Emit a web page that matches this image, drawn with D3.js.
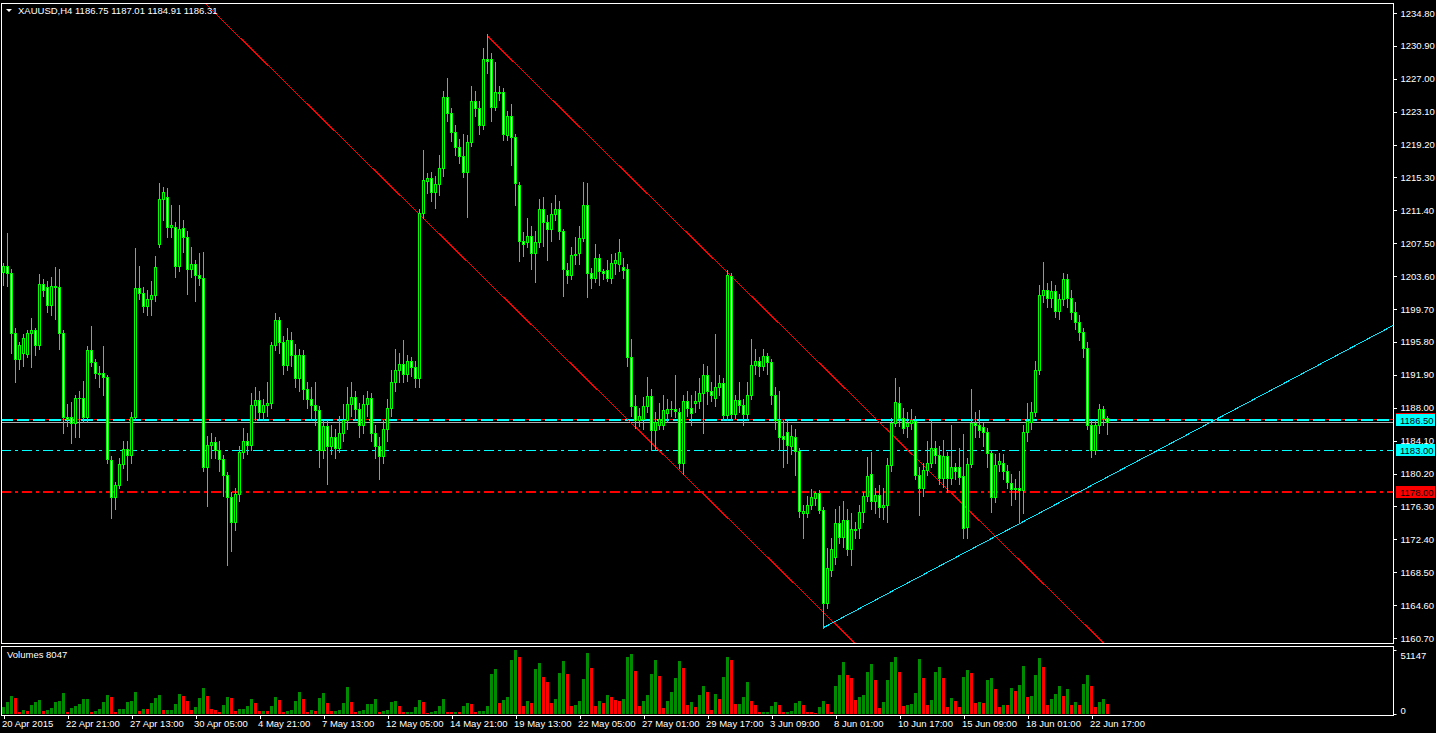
<!DOCTYPE html>
<html><head><meta charset="utf-8">
<script src="https://cdn.jsdelivr.net/npm/d3@7"></script>
<style>
html,body{margin:0;padding:0;background:#000;overflow:hidden}
svg{display:block}
text{font-family:"Liberation Sans",Arial,sans-serif;font-size:9.5px;fill:#fff}
</style>
</head><body>
<svg id="chart" width="1436" height="733"></svg>
<script>
// ---------------- DATA ----------------
const symbolTitle = "XAUUSD,H4  1186.75 1187.01 1184.91 1186.31";
const volumeTitle = "Volumes 8047";

const open = [
1204.1,1204.8,1204.0,1196.9,1193.8,1194.5,1194.4,1196.9,1197.2,1195.4,
1202.7,1202.3,1200.2,1202.4,1202.3,1196.9,1186.9,1186.9,1186.2,1189.2,
1189.2,1186.9,1194.8,1193.4,1192.1,1192.1,1191.6,1181.8,1177.4,1178.8,
1181.3,1183.1,1182.4,1186.9,1202.2,1201.6,1200.1,1200.9,1201.4,1207.4,
1212.8,1213.0,1209.4,1209.4,1204.8,1209.3,1208.2,1204.5,1205.0,1203.7,
1203.4,1181.0,1183.6,1183.9,1183.0,1181.9,1180.0,1177.4,1174.5,1177.8,
1182.8,1184.1,1183.6,1188.3,1188.9,1187.5,1188.3,1188.6,1195.4,1198.4,
1195.8,1193.1,1196.0,1194.3,1191.5,1194.2,1190.2,1189.0,1188.3,1187.7,
1183.0,1185.8,1183.5,1184.5,1183.2,1185.0,1186.5,1188.4,1189.3,1187.8,
1186.0,1188.5,1189.2,1185.0,1183.5,1182.3,1185.5,1188.0,1191.0,1192.5,
1193.2,1192.0,1193.5,1192.8,1191.5,1211.1,1214.9,1215.2,1213.6,1214.5,
1216.4,1224.8,1222.9,1220.7,1218.9,1217.9,1216.0,1219.5,1224.4,1223.5,
1221.5,1229.3,1229.4,1223.7,1225.4,1225.4,1220.3,1222.6,1220.1,1214.4,
1207.8,1207.7,1208.4,1206.3,1207.6,1211.6,1210.0,1209.2,1211.0,1211.6,
1208.9,1204.3,1203.7,1206.1,1206.3,1208.1,1212.0,1204.0,1203.4,1205.8,
1204.2,1204.3,1203.4,1205.2,1205.0,1204.7,1204.4,1194.0,1188.2,1186.6,
1186.7,1188.2,1189.4,1185.4,1186.0,1186.0,1187.4,1187.9,1187.8,1187.5,
1181.5,1188.8,1188.0,1188.6,1188.8,1189.8,1191.9,1190.0,1189.2,1190.5,
1190.9,1187.1,1203.6,1187.3,1188.9,1188.3,1187.2,1189.5,1193.1,1193.5,
1193.0,1194.1,1193.4,1189.5,1186.6,1184.7,1185.1,1183.5,1184.5,1182.9,
1175.5,1175.5,1176.5,1177.3,1177.9,1175.9,1164.9,1168.8,1170.3,1174.3,
1172.7,1174.7,1171.3,1173.6,1173.8,1175.6,1177.5,1180.2,1177.0,1177.6,
1176.2,1176.5,1181.2,1186.2,1188.6,1186.8,1185.8,1186.2,1186.4,1180.0,
1178.5,1180.6,1181.5,1183.2,1182.4,1179.7,1182.3,1179.7,1181.0,1181.0,
1179.9,1173.9,1181.3,1186.2,1185.9,1185.7,1185.1,1182.6,1177.4,1181.3,
1181.5,1180.5,1179.1,1178.4,1178.5,1178.2,1185.1,1186.3,1187.5,1192.5,
1201.4,1202.0,1201.0,1201.8,1199.5,1200.9,1203.3,1201.0,1199.3,1198.2,
1197.0,1195.1,1186.0,1183.0,1186.0,1187.8,1186.75];

const high = [
1205.2,1208.7,1204.5,1197.5,1195.8,1196.8,1197.2,1198.6,1197.5,1203.9,
1203.3,1203.0,1203.5,1204.7,1204.4,1197.2,1188.5,1188.7,1189.5,1190.0,
1191.2,1195.3,1197.7,1193.8,1193.0,1195.3,1191.9,1182.3,1179.2,1182.0,
1184.0,1184.0,1187.5,1206.9,1204.8,1202.3,1202.0,1203.0,1206.0,1214.6,
1214.2,1214.0,1212.0,1210.0,1212.0,1210.2,1209.0,1207.0,1205.5,1206.4,
1206.5,1184.7,1185.0,1184.5,1184.0,1182.4,1180.4,1178.0,1178.5,1183.5,
1185.6,1185.0,1189.8,1190.5,1190.0,1189.0,1191.0,1195.8,1199.2,1198.8,
1196.5,1197.5,1197.0,1195.5,1195.0,1194.8,1191.0,1190.5,1191.0,1188.2,
1186.5,1186.5,1186.0,1185.5,1187.0,1188.5,1190.5,1191.0,1190.0,1188.6,
1189.5,1190.0,1189.8,1186.0,1184.5,1186.5,1189.0,1192.5,1195.0,1194.5,
1196.0,1194.3,1194.0,1193.5,1211.6,1218.6,1215.8,1216.0,1215.5,1218.0,
1225.6,1227.1,1223.5,1221.5,1219.9,1220.5,1220.3,1226.2,1225.6,1224.4,
1230.6,1232.3,1230.0,1229.0,1226.2,1225.9,1223.2,1224.0,1220.5,1214.8,
1208.8,1210.5,1209.5,1209.0,1212.8,1213.0,1210.8,1212.3,1213.2,1212.5,
1209.2,1205.2,1207.0,1208.2,1209.5,1214.8,1214.7,1204.6,1207.4,1206.2,
1204.5,1205.5,1206.2,1206.3,1208.0,1205.8,1205.0,1196.1,1189.5,1188.0,
1189.3,1191.7,1190.2,1187.5,1188.6,1189.5,1189.0,1188.8,1191.9,1188.0,
1189.5,1190.0,1189.5,1190.0,1191.5,1193.2,1193.0,1191.0,1196.7,1191.9,
1191.5,1204.3,1204.0,1189.5,1191.0,1189.0,1191.0,1196.1,1195.0,1194.0,
1195.0,1194.5,1193.8,1190.5,1190.0,1186.5,1186.4,1186.0,1185.5,1183.2,
1176.5,1177.5,1178.4,1178.0,1178.3,1176.2,1171.4,1172.5,1176.0,1176.3,
1177.0,1176.0,1175.5,1174.4,1176.5,1178.0,1182.2,1182.8,1178.5,1178.8,
1178.5,1182.0,1186.8,1191.5,1190.5,1188.0,1187.5,1187.9,1187.0,1181.0,
1181.5,1184.0,1186.5,1184.0,1183.5,1184.2,1182.8,1186.0,1181.5,1183.2,
1184.9,1182.0,1190.2,1187.5,1187.7,1186.2,1185.6,1183.0,1182.5,1182.6,
1182.5,1181.2,1180.2,1179.6,1180.5,1186.0,1188.6,1188.7,1193.5,1202.5,
1205.3,1202.8,1203.0,1202.5,1201.5,1204.0,1203.8,1202.0,1200.5,1199.0,
1197.5,1195.8,1186.5,1186.7,1188.5,1188.2,1187.01];

const low = [
1202.5,1202.4,1194.5,1191.1,1192.6,1193.0,1194.0,1192.8,1194.3,1195.0,
1201.3,1199.4,1199.0,1198.5,1195.0,1185.0,1185.8,1183.8,1184.5,1184.5,
1186.3,1186.3,1193.0,1191.5,1190.5,1189.5,1181.5,1174.9,1176.0,1178.5,
1180.8,1179.4,1181.5,1186.5,1200.9,1199.4,1199.0,1199.0,1200.7,1207.0,
1210.3,1208.3,1208.3,1203.5,1204.2,1206.5,1201.5,1203.5,1200.7,1202.5,
1180.5,1176.3,1182.0,1182.0,1180.5,1177.5,1169.4,1171.0,1173.5,1177.0,
1182.0,1182.5,1183.0,1186.5,1186.8,1186.5,1187.0,1188.0,1194.8,1194.5,
1192.0,1192.5,1193.0,1190.5,1190.0,1189.0,1188.0,1186.5,1186.0,1181.0,
1182.0,1179.0,1182.5,1182.0,1182.8,1184.0,1185.5,1187.0,1186.5,1184.5,
1185.0,1187.0,1184.0,1182.0,1179.5,1181.5,1184.0,1187.0,1190.0,1191.0,
1191.0,1191.2,1191.8,1190.5,1190.5,1210.5,1213.5,1212.5,1211.7,1213.2,
1215.5,1222.0,1219.6,1218.0,1217.0,1215.3,1210.6,1219.0,1222.6,1220.5,
1221.0,1227.7,1222.0,1223.3,1224.5,1219.8,1219.8,1216.8,1212.0,1205.4,
1206.0,1207.0,1204.5,1202.9,1207.0,1207.2,1205.5,1207.8,1210.2,1208.0,
1201.3,1202.8,1203.3,1205.0,1205.0,1207.8,1201.1,1202.2,1202.9,1202.6,
1203.3,1203.0,1202.8,1203.9,1204.2,1203.4,1193.0,1187.0,1185.6,1185.8,
1185.5,1187.5,1183.0,1183.0,1185.5,1185.5,1186.3,1187.0,1186.9,1180.8,
1180.2,1187.0,1186.0,1187.5,1188.0,1185.0,1188.5,1188.8,1188.2,1189.5,
1186.5,1186.5,1186.6,1186.8,1187.5,1186.0,1186.5,1189.0,1192.0,1191.8,
1192.5,1192.0,1188.5,1185.5,1183.0,1181.0,1181.5,1182.5,1180.0,1175.0,
1172.6,1175.0,1176.0,1176.5,1175.5,1161.9,1164.3,1168.0,1169.5,1172.0,
1171.5,1170.5,1169.3,1172.5,1172.5,1174.5,1177.0,1176.0,1175.5,1175.0,
1174.8,1174.5,1180.5,1185.8,1185.8,1185.0,1184.5,1185.5,1179.5,1175.3,
1177.5,1180.0,1181.0,1181.5,1179.0,1178.6,1178.0,1179.0,1179.5,1179.0,
1172.6,1172.5,1181.0,1184.5,1184.5,1183.5,1181.0,1175.6,1176.8,1180.5,
1179.6,1178.5,1176.5,1177.2,1174.3,1175.5,1184.0,1185.5,1187.0,1192.0,
1200.5,1200.0,1200.0,1198.8,1198.5,1200.2,1200.0,1198.5,1197.3,1196.0,
1194.0,1185.5,1182.2,1182.5,1185.0,1186.0,1184.91];

const close = [
1204.8,1204.0,1196.9,1193.8,1195.4,1196.3,1196.9,1197.2,1195.4,1202.7,
1202.0,1200.2,1202.4,1202.3,1196.9,1186.9,1186.7,1186.2,1189.2,1189.1,
1186.9,1194.8,1193.4,1192.1,1192.0,1191.6,1181.9,1177.4,1178.8,1181.3,
1183.1,1182.4,1186.9,1202.2,1201.6,1200.1,1200.9,1201.4,1204.7,1212.8,
1213.6,1209.4,1209.7,1204.8,1209.2,1208.2,1204.5,1205.0,1203.7,1203.4,
1181.0,1183.6,1183.9,1183.0,1181.9,1180.0,1177.4,1174.5,1177.8,1182.8,
1184.1,1183.6,1188.3,1188.9,1187.5,1188.3,1188.6,1195.4,1198.4,1195.8,
1193.1,1196.0,1194.3,1191.5,1194.2,1190.2,1189.0,1188.3,1187.7,1183.0,
1185.8,1183.5,1184.5,1183.2,1185.0,1186.5,1188.4,1189.3,1187.8,1186.0,
1188.5,1189.2,1185.0,1183.5,1182.3,1185.5,1188.0,1191.0,1192.5,1193.2,
1192.0,1193.5,1192.8,1191.5,1211.1,1215.0,1215.2,1213.6,1214.5,1216.4,
1224.8,1222.9,1220.7,1218.9,1217.9,1216.0,1219.5,1224.4,1223.5,1221.5,
1229.4,1229.1,1223.7,1225.4,1225.3,1220.5,1222.6,1220.1,1214.6,1207.8,
1207.4,1208.4,1206.3,1207.6,1211.6,1210.0,1209.2,1211.0,1211.6,1208.9,
1204.4,1203.7,1206.1,1206.2,1208.1,1212.0,1204.0,1203.4,1205.8,1204.2,
1204.0,1203.4,1205.2,1205.5,1206.5,1204.3,1194.0,1188.2,1186.5,1187.0,
1188.2,1189.4,1185.4,1186.3,1186.7,1187.7,1187.9,1187.8,1187.6,1181.5,
1188.8,1188.0,1187.4,1188.8,1189.8,1191.9,1190.0,1189.5,1190.5,1190.9,
1187.1,1203.7,1187.3,1188.9,1188.3,1187.2,1189.5,1193.1,1193.5,1193.0,
1194.1,1193.4,1189.5,1186.6,1184.5,1184.3,1183.6,1184.7,1182.9,1175.8,
1175.8,1176.5,1177.4,1177.9,1175.9,1164.9,1169.0,1171.3,1174.3,1172.7,
1174.7,1171.3,1173.6,1173.5,1175.6,1177.5,1179.9,1177.0,1177.6,1176.2,
1176.5,1181.2,1186.2,1188.7,1186.8,1185.6,1186.2,1186.5,1180.0,1178.5,
1180.6,1181.5,1183.2,1182.4,1179.7,1182.3,1179.7,1181.0,1180.5,1179.8,
1173.8,1181.3,1186.2,1186.0,1185.4,1185.1,1182.6,1177.4,1181.2,1181.7,
1180.5,1179.2,1178.4,1178.5,1178.2,1185.1,1186.4,1187.5,1192.5,1201.4,
1202.0,1201.0,1201.8,1199.5,1200.9,1203.3,1201.0,1199.3,1198.2,1197.0,
1195.1,1186.0,1183.0,1186.0,1187.8,1186.8,1186.31];

const volume = [
5621,9636,14213,12848,1847,3212,2409,6986,9636,11001,
2409,2971,4818,9636,10198,16863,1606,4577,6424,8030,
11804,12045,1606,2409,4256,9636,15016,13410,1606,3774,
4015,9636,10198,17425,2168,3774,3774,9074,12607,15016,
2971,3212,3453,8030,15819,14454,10198,3212,5621,12607,
20878,14213,3774,3212,1606,6986,13410,12607,2409,3774,
4015,6183,11804,8833,2409,2650,2409,6183,13410,11001,
1606,2409,2971,10198,17425,11804,1606,2971,2409,12607,
16622,8833,2409,2650,2971,8833,21440,9395,1606,2409,
3212,7789,8271,11804,1606,2168,3212,9395,10198,6665,
1365,1606,1847,5621,11001,9395,803,1606,2409,6424,
11804,1445,1365,1847,1606,6183,8592,7789,1606,2409,
2650,6183,32361,35573,8833,11001,13410,43121,51147,45771,
6183,10198,8833,35894,40712,29711,25455,8833,11804,32682,
42318,32120,6183,6986,10198,27864,48742,36938,6183,10198,
8833,15016,13410,11001,10198,11804,45530,47939,34529,6183,
10198,15016,32120,43121,30514,4577,10198,17425,28908,42318,
36938,6986,9395,5380,15016,22243,17425,2971,15819,11804,
29470,45530,43121,7789,8030,13410,25455,10198,6986,1365,
1606,1847,6183,9395,6986,1365,1606,2168,8592,10198,
6986,1365,1205,1124,5380,10198,7789,1365,22243,31076,
41515,31076,28667,11001,13410,15016,33485,39909,27061,4577,
9395,27061,41515,45530,33485,6183,6986,7789,16622,43924,
28667,6986,11001,33485,37500,28667,5380,12607,10198,5380,
29470,35091,32682,8592,9395,8592,27061,28667,19834,5380,
6986,6986,20637,18228,23046,38303,13410,14213,31076,44727,
37500,6986,11804,15819,22243,14213,19834,6986,9395,6986,
23849,31076,22243,5380,9395,11804,8047];

const timeLabels = ["20 Apr 2015","22 Apr 21:00","27 Apr 13:00","30 Apr 05:00","4 May 21:00",
  "7 May 13:00","12 May 05:00","14 May 21:00","19 May 13:00","22 May 05:00","27 May 01:00",
  "29 May 17:00","3 Jun 09:00","8 Jun 01:00","10 Jun 17:00","15 Jun 09:00","18 Jun 01:00","22 Jun 17:00"];
const timeLabelBars = [0,16,32,48,64,80,96,112,128,144,160,176,192,208,224,240,256,272];

const priceTicks = [1160.70,1164.60,1168.50,1172.40,1176.30,1180.20,1184.10,1188.00,1191.90,
  1195.80,1199.70,1203.60,1207.50,1211.40,1215.30,1219.20,1223.10,1227.00,1230.90,1234.80];
const volumeTicks = [0, 51147];

// horizontal levels
const askPrice = 1186.65;
const bidPrice = 1186.31;
const cyanLevels = [1186.50, 1183.00];
const redLevel = 1178.00;

// trend-line anchors: [bar index, price]
const channelUpper = [[121, 1232.11], [276, 1159.71]];
const channelLower = [[104, 1210.97], [205, 1163.80]];
const supportLine  = [[205, 1161.90], [269, 1178.00]];

// ---------------- DRAW ----------------
const svg = d3.select("#chart");
const W = 1436, H = 733;
const plot = {left: 1, right: 1393, top: 3, bottom: 643};
const vpanel = {top: 646, bottom: 715};

const x = d3.scaleLinear().domain([0, 1]).range([3, 7]);
const y = d3.scaleLinear().domain([1160.70, 1234.80]).range([638, 13]);
const vy = d3.scaleLinear().domain([0, 51147]).range([714, 650]);

svg.append("rect").attr("width", W).attr("height", H).attr("fill", "#000");

const defs = svg.append("defs");
defs.append("clipPath").attr("id", "clipMain").append("rect")
  .attr("x", plot.left + 1).attr("y", plot.top + 1)
  .attr("width", plot.right - plot.left - 1).attr("height", plot.bottom - plot.top - 1);

const main = svg.append("g").attr("clip-path", "url(#clipMain)");

// horizontal lines
const hl = (p, color, w, dash) => {
  const yy = Math.round(y(p)) + (w % 2 ? 0.5 : 0);
  main.append("line").attr("x1", plot.left).attr("x2", plot.right)
    .attr("y1", yy).attr("y2", yy).attr("stroke", color).attr("stroke-width", w)
    .attr("stroke-dasharray", dash || null).attr("shape-rendering", "crispEdges");
};
hl(askPrice, "#ff0000", 1);
hl(bidPrice, "#b0b0b0", 1);
hl(cyanLevels[0], "#00ffff", 2, "12,4");
hl(cyanLevels[1], "#00ffff", 1.5, "10,4,3,4");
hl(redLevel, "#ff0000", 2, "10,4,3,4");

// trend lines
const lineAt = (a, t) => a[0][1] + (a[1][1] - a[0][1]) * (t - a[0][0]) / (a[1][0] - a[0][0]);
const tline = (a, t0, t1, color) => {
  main.append("line")
    .attr("x1", x(t0)).attr("y1", y(lineAt(a, t0)))
    .attr("x2", x(t1)).attr("y2", y(lineAt(a, t1)))
    .attr("stroke", color).attr("stroke-width", 1).attr("shape-rendering", "crispEdges");
};
tline(channelLower, 40, 330, "#ff0000");
tline(channelUpper, 121, 330, "#ff0000");
tline(supportLine, 205, 400, "#00e8ff");

// candles
const idx = d3.range(open.length);
const cg = main.append("g").attr("shape-rendering", "crispEdges");
cg.selectAll("line.wick").data(idx).join("line").attr("class", "wick")
  .attr("x1", i => x(i) + 0.5).attr("x2", i => x(i) + 0.5)
  .attr("y1", i => Math.round(y(high[i]))).attr("y2", i => Math.round(y(low[i])) + 1)
  .attr("stroke", "#00ff00").attr("stroke-width", 1);
idx.forEach(i => {
  const yt = Math.round(y(Math.max(open[i], close[i])));
  const yb = Math.round(y(Math.min(open[i], close[i])));
  if (yb - yt < 1) {
    cg.append("line").attr("x1", x(i) - 1).attr("x2", x(i) + 2)
      .attr("y1", yt + 0.5).attr("y2", yt + 0.5).attr("stroke", "#00ff00");
  } else {
    cg.append("rect").attr("x", x(i) - 0.5).attr("y", yt + 0.5)
      .attr("width", 2).attr("height", yb - yt)
      .attr("fill", close[i] >= open[i] ? "#000" : "#fff")
      .attr("stroke", "#00ff00").attr("stroke-width", 1);
  }
});

// volume bars
const vg = svg.append("g").attr("shape-rendering", "crispEdges");
vg.selectAll("rect").data(idx).join("rect")
  .attr("x", i => x(i) - 1).attr("width", 3)
  .attr("y", i => Math.round(vy(volume[i])))
  .attr("height", i => 714 - Math.round(vy(volume[i])))
  .attr("fill", i => (i === 0 || volume[i] > volume[i - 1]) ? "#008c00" : "#ff0000");

// frames
const frame = (x0, y0, x1, y1) => svg.append("rect")
  .attr("x", x0 + 0.5).attr("y", y0 + 0.5).attr("width", x1 - x0).attr("height", y1 - y0)
  .attr("fill", "none").attr("stroke", "#fff").attr("shape-rendering", "crispEdges");
frame(plot.left, plot.top, plot.right, plot.bottom);
frame(plot.left, vpanel.top, plot.right, vpanel.bottom);

// price axis
const yAxis = d3.axisRight(y).tickValues(priceTicks).tickFormat(d3.format(".2f"))
  .tickSize(3).tickPadding(4);
const ya = svg.append("g").attr("transform", `translate(${plot.right + 0.5},0)`).call(yAxis);
ya.select(".domain").remove();
ya.selectAll("line").attr("stroke", "#fff").attr("shape-rendering", "crispEdges");
ya.selectAll("text").attr("fill", "#fff").attr("font-size", null).attr("font-family", null);

// volume axis
const va = svg.append("g").attr("transform", `translate(${plot.right + 0.5},0)`)
  .call(d3.axisRight(vy).tickValues(volumeTicks).tickFormat(d3.format("d")).tickSize(3).tickPadding(4));
va.select(".domain").remove();
va.selectAll("line").attr("stroke", "#fff");
va.selectAll("text").attr("fill", "#fff").attr("font-size", null).attr("font-family", null)
  .attr("dy", (d) => d === 0 ? "-0.1em" : "0.9em");

// level labels
const label = (p, bg, fg) => {
  const yy = Math.round(y(p));
  svg.append("rect").attr("x", 1396).attr("y", yy - 6).attr("width", 39).attr("height", 12).attr("fill", bg);
  svg.append("text").attr("x", 1400).attr("y", yy + 3.5).style("fill", fg).text(d3.format(".2f")(p));
};
label(askPrice, "#ff0000", "#000");
label(cyanLevels[0], "#00ffff", "#000");
label(cyanLevels[1], "#00ffff", "#000");
label(redLevel, "#ff0000", "#000");

// time axis
const xAxis = d3.axisBottom(x).tickValues(timeLabelBars).tickFormat((d, i) => timeLabels[i])
  .tickSize(4).tickPadding(3);
const xa = svg.append("g").attr("transform", `translate(0.5,${vpanel.bottom})`).call(xAxis);
xa.select(".domain").remove();
xa.selectAll("line").attr("stroke", "#fff").attr("shape-rendering", "crispEdges");
xa.selectAll("text").attr("fill", "#fff").attr("font-size", null).attr("font-family", null)
  .attr("text-anchor", "start").attr("dx", "-2").attr("y", 5).attr("dy", "0.75em");

// titles
svg.append("path").attr("d", "M6,9 L12,9 L9,12 Z").attr("fill", "#fff");
svg.append("text").attr("x", 18).attr("y", 13.5).text(symbolTitle);
svg.append("text").attr("x", 7).attr("y", 658).text(volumeTitle);
</script>
</body></html>
